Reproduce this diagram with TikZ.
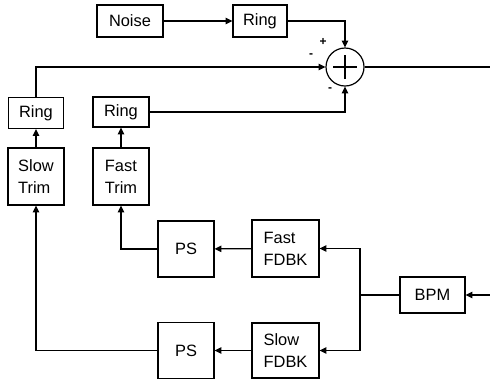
\documentclass[tikz,border=0pt]{standalone}
\usepackage{fontspec}
\setmainfont{Liberation Sans}
\usepackage{tikz}
\usetikzlibrary{arrows.meta}

\begin{document}
\begin{tikzpicture}[
    x=0.5pt, y=-0.5pt,
    block/.style={draw, line width=0.6pt, inner sep=0pt, align=left, font=\fontsize{8.2}{11}\selectfont},
    sumnode/.style={draw, circle, line width=0.6pt, minimum size=19pt, inner sep=0pt},
    sign/.style={font=\fontsize{6}{6}\selectfont\bfseries, inner sep=0pt},
    line/.style={draw, line width=0.6pt},
    arrow/.style={line, -{Triangle[length=3.4pt,width=3.2pt]}}
]
\useasboundingbox (0,0) rectangle (490,381);

% top row
\node[block, minimum width=33pt, minimum height=16pt] (noise) at (130,21) {Noise};
\node[block, minimum width=27pt, minimum height=16pt] (ringn) at (260,21) {Ring};
\node[sumnode] (sum) at (345,67) {};
\draw[line width=0.6pt] ([xshift=-6pt]sum.center) -- ([xshift=6pt]sum.center)
    ([yshift=-6pt]sum.center) -- ([yshift=6pt]sum.center);
\node[sign] (plus) at (323,42) {+};
\node[sign] (minusa) at (311,56) {-};
\node[sign] (minusb) at (330,90) {-};

% trims and rings
\node[block, minimum width=27.5pt, minimum height=15.5pt] (rings) at (36,113) {Ring};
\node[block, minimum width=28pt, minimum height=15pt] (ringf) at (121,112) {Ring};
\node[block, minimum width=28pt, minimum height=28.5pt] (slowtrim) at (36,176.5) {Slow\\Trim};
\node[block, minimum width=28pt, minimum height=28.5pt] (fasttrim) at (121,176.5) {Fast\\Trim};

% feedback paths
\node[block, minimum width=28pt, minimum height=28pt] (psf) at (186,249) {PS};
\node[block, minimum width=33.5pt, minimum height=28.5pt] (fastfb) at (285.5,248.5) {Fast\\FDBK};
\node[block, minimum width=28pt, minimum height=28pt] (pss) at (186,350.5) {PS};
\node[block, minimum width=33.5pt, minimum height=27.5pt] (slowfb) at (285.5,350.5) {Slow\\FDBK};
\node[block, minimum width=32.5pt, minimum height=18pt] (bpm) at (432.5,295) {BPM};
\coordinate (split) at (360,295);
\coordinate (outr) at (490,67);
\coordinate (inr) at (490,295);

% connectors
\draw[arrow] (noise) -- (ringn);
\draw[arrow] (ringn.east) -| (sum.north);
\draw[arrow] (rings.north) |- (sum.west);
\draw[arrow] (ringf.east) -| (sum.south);
\draw[line] (sum.east) -- (outr);
\draw[arrow] (slowtrim) -- (rings);
\draw[arrow] (fasttrim) -- (ringf);
\draw[arrow] (psf.west) -| (fasttrim.south);
\draw[arrow] (pss.west) -| (slowtrim.south);
\draw[arrow] (fastfb) -- (psf);
\draw[arrow] (slowfb) -- (pss);
\draw[line] (bpm.west) -- (split);
\draw[arrow] (split) |- (fastfb.east);
\draw[arrow] (split) |- (slowfb.east);
\draw[arrow] (inr) -- (bpm.east);
\end{tikzpicture}
\end{document}
